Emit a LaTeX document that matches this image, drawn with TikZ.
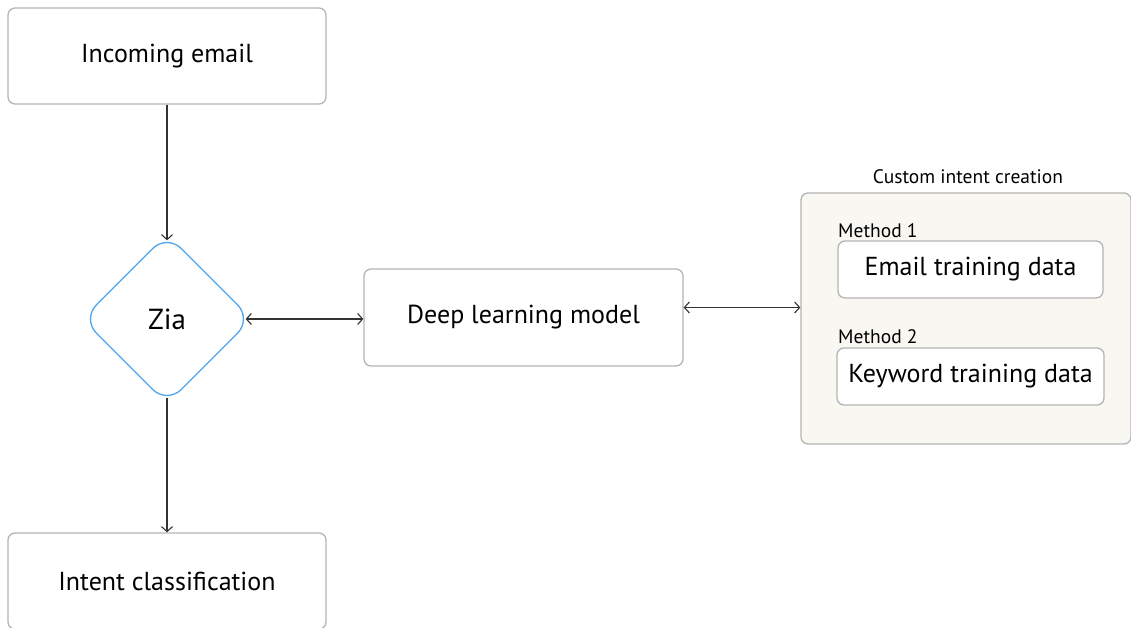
\documentclass[tikz,border=0pt]{standalone}
\usepackage{fontspec}
\setmainfont{PT Sans}
\usetikzlibrary{shapes.geometric,arrows.meta}

\definecolor{boxline}{HTML}{B4B4B4}
\definecolor{ziablue}{HTML}{4DA6EE}
\definecolor{arrowgray}{HTML}{333333}
\definecolor{panelfill}{HTML}{F9F7F1}

\tikzset{
  stepbox/.style={draw=boxline, line width=1.3pt, rounded corners=7pt, fill=white,
    minimum width=318pt, minimum height=96pt, inner sep=0pt, font=\fontsize{26}{30}\selectfont},
  databox/.style={draw=boxline, line width=1.3pt, rounded corners=7pt, fill=white,
    minimum height=57pt, inner sep=0pt, font=\fontsize{26}{30}\selectfont},
  smalltext/.style={inner sep=0pt, font=\fontsize{19.5}{23}\selectfont},
  link/.style={draw=arrowgray, line width=1.1pt, arrows={Straight Barb[length=5pt,width=11pt]-Straight Barb[length=5pt,width=11pt]}},
  flow/.style={draw=arrowgray, line width=1.1pt, -{Straight Barb[length=5pt,width=11pt]}}
}

\begin{document}
\begin{tikzpicture}[x=1pt, y=-1pt]
  \useasboundingbox (0,0) rectangle (1131,628);

  % left column
  \node[stepbox] (incoming) at (167,56) {Incoming email};
  \node[draw=ziablue, line width=1.3pt, shape=diamond, aspect=1, minimum size=170pt,
        inner sep=0pt, rounded corners=20pt, font=\fontsize{29}{32}\selectfont] (zia) at (167,319) {Zia};
  \node[stepbox] (intent) at (167,581) {Intent classification};

  \node[stepbox, minimum width=319pt, minimum height=97pt] (deep) at (523.5,317.5) {Deep learning model};

  % custom intent panel
  \node[draw=boxline, line width=1.3pt, rounded corners=7pt, fill=panelfill,
        minimum width=330pt, minimum height=251pt, inner sep=0pt] (custom) at (966,318.5) {};
  \node[smalltext, anchor=base] (customlabel) at (968,184) {Custom intent creation};
  \node[smalltext, anchor=base west] (method1) at (838,237) {Method 1};
  \node[databox, minimum width=265pt] (emaildata) at (970.5,269.5) {Email training data};
  \node[smalltext, anchor=base west] (method2) at (838,343) {Method 2};
  \node[databox, minimum width=267pt] (keyworddata) at (970.5,376.5) {Keyword training data};

  % connectors
  \draw[flow, shorten >=-7pt] (incoming.south) -- (zia.north);
  \draw[flow, shorten <=-7pt] (zia.south) -- (intent.north);
  \draw[link, shorten <=-7pt] (zia.east) -- (deep.west |- zia.east);
  \draw[link] (deep.east |- custom.west) ++(0,-11) coordinate (deepright) -- (custom.west |- deepright);
\end{tikzpicture}
\end{document}
